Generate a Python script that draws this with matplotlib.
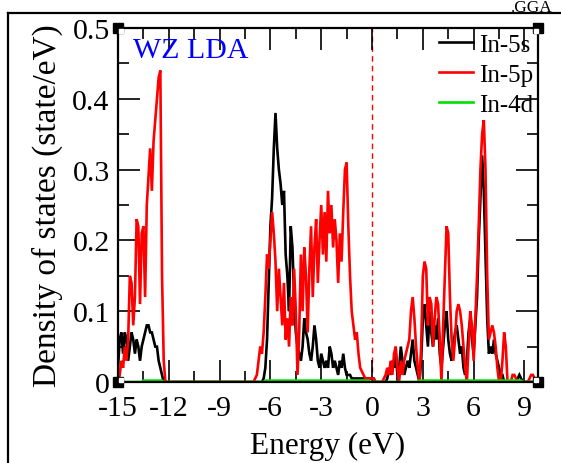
import numpy as np
import matplotlib
matplotlib.use('Agg')
import matplotlib.pyplot as plt
from matplotlib.lines import Line2D
from matplotlib.ticker import MultipleLocator, FixedLocator, FixedFormatter
import matplotlib.transforms as mtransforms

plt.rcParams['font.family'] = ['Liberation Serif', 'DejaVu Serif']
plt.rcParams['axes.unicode_minus'] = False

# Energy grid (eV), 0.1 eV steps from -15.0 to 9.9
energy = np.round(np.arange(-15.0, 9.95, 0.1), 1)

# In-5s PDOS (rows of 1 eV, starting at -15, -14, ...)
in5s = [
    0.02, 0.06, 0.07, 0.04, 0.07, 0.06, 0.03, 0.05, 0.07, 0.06,   # -15
    0.04, 0.06, 0.05, 0.03, 0.05, 0.06, 0.07, 0.08, 0.08, 0.07,   # -14
    0.07, 0.06, 0.05, 0.05, 0.03, 0.02, 0.01, 0.0, 0.0, 0.0,      # -13
    0, 0, 0, 0, 0, 0, 0, 0, 0, 0,                                 # -12
    0, 0, 0, 0, 0, 0, 0, 0, 0, 0,                                 # -11
    0, 0, 0, 0, 0, 0, 0, 0, 0, 0,                                 # -10
    0, 0, 0, 0, 0, 0, 0, 0, 0, 0,                                 # -9
    0, 0, 0, 0, 0, 0, 0, 0, 0, 0,                                 # -8
    0, 0, 0, 0, 0, 0, 0.005, 0.02, 0.06, 0.14,                    # -7
    0.22, 0.26, 0.33, 0.38, 0.33, 0.30, 0.28, 0.25, 0.27, 0.18,   # -6
    0.15, 0.10, 0.22, 0.19, 0.12, 0.07, 0.05, 0.04, 0.03, 0.05,   # -5
    0.09, 0.07, 0.06, 0.04, 0.03, 0.05, 0.08, 0.06, 0.03, 0.02,   # -4
    0.04, 0.03, 0.02, 0.03, 0.02, 0.05, 0.04, 0.02, 0.03, 0.02,   # -3
    0.01, 0.03, 0.02, 0.04, 0.02, 0.01, 0.01, 0.01, 0.005, 0.005, # -2
    0.005, 0.005, 0.005, 0.005, 0.005, 0.005, 0.005, 0.005, 0.005, 0.005,  # -1
    0.005, 0.005, 0.0, 0, 0, 0, 0, 0, 0, 0.005,                   # 0
    0.02, 0.01, 0.03, 0.02, 0.04, 0.01, 0.02, 0.05, 0.03, 0.01,   # 1
    0.02, 0.03, 0.02, 0.04, 0.06, 0.03, 0.02, 0.01, 0.0, 0.03,    # 2
    0.09, 0.11, 0.08, 0.05, 0.10, 0.07, 0.05, 0.08, 0.06, 0.09,   # 3
    0.04, 0.02, 0.05, 0.08, 0.10, 0.06, 0.04, 0.03, 0.05, 0.07,   # 4
    0.08, 0.06, 0.04, 0.05, 0.02, 0.01, 0.03, 0.07, 0.09, 0.06,   # 5
    0.04, 0.08, 0.12, 0.20, 0.26, 0.32, 0.27, 0.18, 0.09, 0.04,   # 6
    0.05, 0.04, 0.06, 0.04, 0.03, 0.02, 0.01, 0.01, 0.0, 0.0,     # 7
    0, 0, 0, 0, 0, 0, 0.005, 0.01, 0.005, 0,                      # 8
    0, 0, 0, 0, 0, 0, 0, 0, 0, 0,                                 # 9
]

# In-5p PDOS
in5p = [
    0.0, 0.01, 0.03, 0.02, 0.05, 0.03, 0.06, 0.15, 0.14, 0.08,    # -15
    0.12, 0.23, 0.22, 0.11, 0.21, 0.22, 0.12, 0.25, 0.29, 0.33,   # -14
    0.27, 0.34, 0.37, 0.40, 0.43, 0.44, 0.15, 0.03, 0.0, 0.0,     # -13
    0, 0, 0, 0, 0, 0, 0, 0, 0, 0,                                 # -12
    0, 0, 0, 0, 0, 0, 0, 0, 0, 0,                                 # -11
    0, 0, 0, 0, 0, 0, 0, 0, 0, 0,                                 # -10
    0, 0, 0, 0, 0, 0, 0, 0, 0, 0,                                 # -9
    0, 0, 0, 0, 0, 0, 0, 0, 0, 0,                                 # -8
    0, 0.005, 0.01, 0.03, 0.05, 0.04, 0.07, 0.12, 0.18, 0.16,     # -7
    0.20, 0.24, 0.21, 0.17, 0.10, 0.16, 0.12, 0.08, 0.14, 0.06,   # -6
    0.09, 0.05, 0.12, 0.08, 0.16, 0.10, 0.01, 0.07, 0.18, 0.10,   # -5
    0.19, 0.15, 0.07, 0.16, 0.22, 0.12, 0.19, 0.23, 0.14, 0.20,   # -4
    0.25, 0.18, 0.24, 0.17, 0.27, 0.21, 0.25, 0.19, 0.23, 0.20,   # -3
    0.14, 0.21, 0.17, 0.24, 0.30, 0.31, 0.22, 0.15, 0.10, 0.08,   # -2
    0.06, 0.07, 0.04, 0.02, 0.015, 0.01, 0.005, 0.005, 0.005, 0.005,  # -1
    0.005, 0.005, 0, 0, 0, 0, 0, 0.005, 0.01, 0.02,               # 0
    0.01, 0.03, 0.01, 0.04, 0.05, 0.02, 0.0, 0.03, 0.01, 0.03,    # 1
    0.04, 0.05, 0.06, 0.10, 0.12, 0.09, 0.05, 0.02, 0.0, 0.05,    # 2
    0.15, 0.17, 0.16, 0.08, 0.12, 0.11, 0.05, 0.09, 0.12, 0.11,   # 3
    0.06, 0.0, 0.08, 0.15, 0.22, 0.21, 0.12, 0.06, 0.03, 0.06,    # 4
    0.10, 0.11, 0.10, 0.08, 0.05, 0.02, 0.0, 0.05, 0.10, 0.08,    # 5
    0.03, 0.09, 0.15, 0.22, 0.30, 0.35, 0.37, 0.30, 0.15, 0.06,   # 6
    0.07, 0.08, 0.07, 0.05, 0.02, 0.0, 0.0, 0.03, 0.07, 0.05,     # 7
    0.0, 0.0, 0.0, 0.01, 0.01, 0.005, 0.0, 0.0, 0.0, 0.0,         # 8
    0.0, 0.0, 0.0, 0.005, 0.01, 0.01, 0.005, 0.0, 0.0, 0.0,       # 9
]

# In-4d PDOS (nearly zero)
in4d = [
    0, 0, 0, 0, 0, 0, 0, 0, 0, 0,                                 # -15
    0, 0, 0, 0, 0, 0.002, 0.002, 0.002, 0.002, 0.002,             # -14
    0.002, 0.002, 0.002, 0.002, 0.002, 0.002, 0.002, 0, 0, 0,     # -13
    0, 0, 0, 0, 0, 0, 0, 0, 0, 0,                                 # -12
    0, 0, 0, 0, 0, 0, 0, 0, 0, 0,                                 # -11
    0, 0, 0, 0, 0, 0, 0, 0, 0, 0,                                 # -10
    0, 0, 0, 0, 0, 0, 0, 0, 0, 0,                                 # -9
    0, 0, 0, 0, 0, 0, 0, 0, 0, 0,                                 # -8
    0, 0, 0, 0, 0, 0, 0, 0.002, 0.002, 0.002,                     # -7
    0.002, 0.002, 0.002, 0.002, 0.002, 0.002, 0.002, 0.002, 0.002, 0.002,  # -6
    0.002, 0.002, 0.002, 0.002, 0.002, 0.002, 0.002, 0.002, 0.002, 0.002,  # -5
    0.002, 0.002, 0.002, 0.002, 0.002, 0.002, 0.002, 0.002, 0.002, 0.002,  # -4
    0.002, 0.002, 0.002, 0.002, 0.002, 0.002, 0.002, 0.002, 0.002, 0.002,  # -3
    0.002, 0.002, 0.002, 0.002, 0.002, 0.002, 0.002, 0.002, 0.002, 0.002,  # -2
    0.002, 0.002, 0.002, 0.002, 0.002, 0.002, 0.002, 0.002, 0.002, 0,      # -1
    0, 0, 0, 0, 0, 0, 0, 0, 0, 0,                                 # 0
    0, 0, 0, 0, 0, 0, 0, 0, 0, 0,                                 # 1
    0, 0, 0, 0, 0, 0, 0, 0, 0.002, 0.002,                         # 2
    0.002, 0.002, 0.002, 0.002, 0.002, 0.002, 0.002, 0.002, 0.002, 0.002,  # 3
    0.002, 0.002, 0.002, 0.002, 0.002, 0.002, 0.002, 0.002, 0.002, 0.002,  # 4
    0.002, 0.002, 0.002, 0.002, 0.002, 0.002, 0.002, 0.002, 0.002, 0.002,  # 5
    0.002, 0.002, 0.002, 0.002, 0.002, 0.002, 0.002, 0.002, 0.002, 0.002,  # 6
    0.002, 0.002, 0.002, 0.002, 0.002, 0.002, 0.002, 0.002, 0.002, 0.002,  # 7
    0.002, 0.002, 0.002, 0.002, 0.002, 0.002, 0.002, 0.002, 0.002, 0,      # 8
    0, 0, 0, 0, 0, 0, 0, 0, 0, 0,                                 # 9
]

series_labels = ['In-5s', 'In-5p', 'In-4d']
series_colors = ['black', '#ff0000', '#00dd00']

xticks = [-15, -12, -9, -6, -3, 0, 3, 6, 9]
xtick_labels = ['-15', '-12', '-9', '-6', '-3', '0', '3', '6', '9']
yticks = [0, 0.1, 0.2, 0.3, 0.4, 0.5]
ytick_labels = ['0', '0.1', '0.2', '0.3', '0.4', '0.5']

W, H = 561, 464
fig = plt.figure(figsize=(W / 100, H / 100), dpi=100)
ax = fig.add_axes([118 / W, 81 / H, 420 / W, 354 / H])

for vals, lab, col in zip([in5s, in5p, in4d], series_labels, series_colors):
    ax.plot(energy, vals, color=col, lw=1.9, label=lab, solid_joinstyle='miter')

ax.axvline(0, color='#ff0000', lw=1.0, ls=(0, (4, 3)), zorder=1)

ax.set_xlim(-15, 9.8)
ax.set_ylim(0, 0.5)
ax.xaxis.set_major_locator(FixedLocator(xticks))
ax.xaxis.set_major_formatter(FixedFormatter(xtick_labels))
ax.xaxis.set_minor_locator(MultipleLocator(1.5))
ax.yaxis.set_major_locator(FixedLocator(yticks))
ax.yaxis.set_major_formatter(FixedFormatter(ytick_labels))
ax.yaxis.set_minor_locator(MultipleLocator(0.05))

ax.tick_params(which='both', direction='in', top=True, right=True, width=1.2,
               labelsize=21.5)
ax.tick_params(axis='x', which='both', pad=9.5)
ax.tick_params(axis='y', which='both', pad=6)
ax.tick_params(which='major', length=16)
ax.tick_params(which='minor', length=8)
for s in ax.spines.values():
    s.set_linewidth(1.6)

ax.set_xlabel('Energy (eV)', fontsize=22.5, labelpad=7)
ax.set_ylabel('Density of states (state/eV)', fontsize=24, labelpad=7)

ax.text(0.036, 0.918, 'WZ LDA', color='#0000ff', fontsize=21.5,
        transform=ax.transAxes, va='baseline', ha='left')

ax.legend(loc='upper right', bbox_to_anchor=(0.988, 0.985), frameon=False,
          fontsize=18, handlelength=1.35, handletextpad=0.25, labelspacing=0.3,
          borderpad=0, borderaxespad=0)

# xmgrace-like corner handles
corners_x = [0, 1, 0, 1]
corners_y = [0, 0, 1, 1]
ax.plot(corners_x, corners_y, 's', ms=7, color='black', transform=ax.transAxes,
        clip_on=False, zorder=6)
for cx, cy in zip(corners_x, corners_y):
    dx = 2.5 if cx == 0 else -2.5
    dy = 2.5 if cy == 0 else -2.5
    off = mtransforms.offset_copy(ax.transAxes, fig=fig, x=dx, y=dy, units='dots')
    ax.plot([cx], [cy], 's', ms=3, color='white', transform=off, clip_on=False, zorder=7)

# outer frame (top and left)
fig.add_artist(Line2D([8 / W, 1.0], [1 - 14 / H, 1 - 14 / H], color='black', lw=1.6))
fig.add_artist(Line2D([8 / W, 8 / W], [0, 1 - 14 / H], color='black', lw=1.6))
fig.text(1 - 8 / W, 1 - 12 / H, '.GGA', ha='right', va='baseline', fontsize=12.5)

fig.savefig('out.png', dpi=100)
